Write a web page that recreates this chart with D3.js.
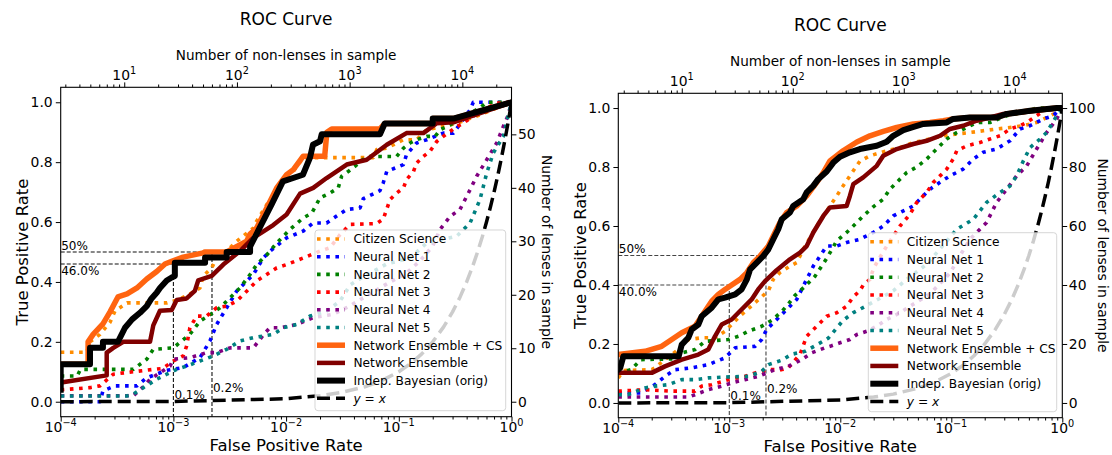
<!DOCTYPE html>
<html><head><meta charset="utf-8">
<script src="https://cdn.jsdelivr.net/npm/d3@7"></script>
<style>
body{margin:0;background:#fff}
text{font-family:"DejaVu Sans",sans-serif;fill:#000}
</style>
</head><body>
<svg id="c" width="1112" height="455"></svg>
<script>
// ---------------- DATA (FPR, TPR) ----------------
// Left panel (56 lenses, ~27300 non-lenses)
const csL=[[1e-4,0.165],[1.7e-4,0.165],[1.82e-4,0.2],[2.23e-4,0.225],[2.74e-4,0.265],[3.03e-4,0.303],[3.88e-4,0.33],[8.73e-4,0.33],[1.1e-3,0.34],[1.4e-3,0.36],[1.72e-3,0.38],[1.84e-3,0.42],[2.19e-3,0.447],[2.42e-3,0.48],[2.97e-3,0.503],[3.65e-3,0.536],[5.12e-3,0.58],[5.48e-3,0.603],[6.73e-3,0.658],[8.26e-3,0.703],[9.44e-3,0.747],[1.16e-2,0.77],[1.42e-2,0.814],[2.07e-2,0.815],[5.94e-2,0.815],[6.37e-2,0.842],[7.82e-2,0.847],[0.11,0.875],[0.144,0.875],[0.177,0.908],[0.248,0.919],[0.327,0.93],[0.525,0.958],[0.791,0.986],[1,1]];
const nn1L=[[1e-4,0.0],[2.23e-4,0.0],[2.37e-4,0.036],[3.03e-4,0.053],[4.75e-4,0.053],[5.8e-4,0.08],[8.73e-4,0.105],[1.22e-3,0.114],[1.72e-3,0.147],[2.11e-3,0.203],[2.42e-3,0.258],[3.65e-3,0.37],[5.12e-3,0.425],[6.28e-3,0.48],[7.2e-3,0.503],[1.01e-2,0.547],[1.42e-2,0.57],[1.74e-2,0.597],[2.29e-2,0.597],[2.81e-2,0.62],[3.45e-2,0.642],[4.53e-2,0.647],[4.84e-2,0.678],[6.81e-2,0.705],[7.28e-2,0.731],[7.82e-2,0.769],[0.11,0.792],[0.117,0.825],[0.144,0.864],[0.177,0.875],[0.248,0.897],[0.305,0.897],[0.373,0.942],[0.429,0.975],[0.458,1.0],[1,1]];
const nn2L=[[1e-4,0.086],[1.4e-4,0.086],[1.5e-4,0.108],[4.41e-4,0.108],[5.8e-4,0.142],[6.63e-4,0.175],[1.0e-3,0.18],[1.4e-3,0.225],[1.72e-3,0.269],[2.11e-3,0.29],[2.59e-3,0.314],[3.18e-3,0.347],[3.9e-3,0.38],[4.79e-3,0.425],[5.48e-3,0.458],[6.73e-3,0.49],[8.26e-3,0.53],[1.08e-2,0.575],[1.42e-2,0.614],[1.69e-2,0.63],[2.0e-2,0.681],[2.45e-2,0.697],[2.9e-2,0.714],[3.11e-2,0.753],[3.56e-2,0.769],[4.08e-2,0.786],[5.19e-2,0.819],[9.57e-2,0.819],[0.11,0.847],[0.126,0.864],[0.144,0.875],[0.177,0.886],[0.21,0.886],[0.232,0.908],[0.305,0.93],[0.4,0.958],[0.525,0.981],[0.603,1.0],[1,1]];
const nn3L=[[1e-4,0.04],[1.82e-4,0.047],[2.23e-4,0.053],[2.93e-4,0.092],[6.63e-4,0.108],[8.0e-4,0.111],[1.0e-3,0.136],[1.22e-3,0.153],[1.31e-3,0.186],[1.4e-3,0.247],[1.61e-3,0.286],[1.97e-3,0.286],[2.42e-3,0.314],[2.97e-3,0.319],[3.65e-3,0.336],[4.47e-3,0.369],[5.48e-3,0.403],[6.73e-3,0.425],[8.26e-3,0.447],[1.01e-2,0.458],[1.42e-2,0.48],[2.0e-2,0.503],[2.45e-2,0.514],[3.01e-2,0.558],[3.69e-2,0.592],[6.37e-2,0.595],[7.28e-2,0.61],[8.36e-2,0.675],[9.57e-2,0.697],[0.11,0.714],[0.117,0.742],[0.135,0.769],[0.144,0.797],[0.165,0.819],[0.189,0.836],[0.217,0.869],[0.248,0.886],[0.327,0.919],[0.373,0.93],[0.429,0.947],[0.562,0.975],[0.739,0.997],[1,1]];
const nn4L=[[1e-4,0.02],[4.41e-4,0.02],[5.41e-4,0.05],[6.2e-4,0.075],[9.33e-4,0.119],[1.0e-3,0.142],[1.4e-3,0.147],[1.97e-3,0.164],[2.42e-3,0.164],[3.18e-3,0.18],[5.12e-3,0.18],[6.5e-3,0.23],[7.2e-3,0.247],[8.83e-3,0.247],[1.24e-2,0.258],[1.74e-2,0.281],[2.62e-2,0.292],[3.69e-2,0.32],[5.5e-2,0.36],[8.4e-2,0.4],[0.117,0.43],[0.154,0.47],[0.2,0.52],[0.232,0.575],[0.285,0.619],[0.349,0.642],[0.429,0.708],[0.491,0.753],[0.603,0.808],[0.739,0.864],[0.846,0.919],[0.937,0.958],[1,1]];
const nn5L=[[1e-4,0.019],[3.85e-4,0.019],[4.41e-4,0.025],[5.41e-4,0.047],[7.11e-4,0.075],[8.73e-4,0.092],[1.07e-3,0.108],[1.31e-3,0.119],[1.72e-3,0.136],[2.26e-3,0.153],[2.97e-3,0.175],[3.9e-3,0.203],[5.12e-3,0.214],[7.69e-3,0.225],[9.44e-3,0.247],[1.24e-2,0.258],[1.63e-2,0.286],[2.29e-2,0.303],[3.01e-2,0.336],[3.7e-2,0.39],[4.5e-2,0.41],[7.8e-2,0.46],[0.126,0.48],[0.177,0.53],[0.327,0.553],[0.429,0.597],[0.525,0.675],[0.603,0.764],[0.69,0.831],[0.846,0.886],[0.937,0.958],[1,1]];
const necsL=[[1e-4,0.125],[1.75e-4,0.125],[1.75e-4,0.2],[1.94e-4,0.225],[2.37e-4,0.26],[2.74e-4,0.3],[3.22e-4,0.35],[3.88e-4,0.36],[4.75e-4,0.38],[5.8e-4,0.41],[7.11e-4,0.435],[8.42e-4,0.46],[9.66e-4,0.469],[1.22e-3,0.483],[1.84e-3,0.497],[1.9e-3,0.5],[2.97e-3,0.5],[4.47e-3,0.536],[4.79e-3,0.56],[5.48e-3,0.58],[6.73e-3,0.647],[8.26e-3,0.714],[1.01e-2,0.758],[1.16e-2,0.775],[1.42e-2,0.82],[2.2e-2,0.82],[2.3e-2,0.9],[2.54e-2,0.911],[6.81e-2,0.911],[7.5e-2,0.929],[0.2,0.929],[0.2,0.946],[0.31,0.946],[1,1]];
const neL=[[1e-4,0.064],[2.56e-4,0.088],[2.56e-4,0.164],[2.93e-4,0.18],[3.59e-4,0.2],[6.2e-4,0.2],[6.63e-4,0.255],[7.6e-4,0.304],[9.66e-4,0.306],[1.07e-3,0.34],[1.31e-3,0.345],[1.55e-3,0.37],[1.66e-3,0.405],[2.19e-3,0.42],[2.77e-3,0.458],[3.9e-3,0.503],[5.12e-3,0.547],[7.69e-3,0.59],[1.01e-2,0.625],[1.33e-2,0.695],[1.74e-2,0.714],[2.29e-2,0.747],[3.45e-2,0.792],[5.19e-2,0.808],[7.82e-2,0.858],[0.117,0.897],[0.165,0.897],[0.217,0.93],[0.305,0.933],[1,1]];
const bayesL=[[1e-4,0.04],[1e-4,0.125],[1.82e-4,0.125],[1.82e-4,0.18],[2.37e-4,0.18],[2.37e-4,0.2],[3.22e-4,0.2],[3.72e-4,0.247],[4.3e-4,0.275],[5.05e-4,0.297],[5.8e-4,0.319],[6.4e-4,0.345],[7.1e-4,0.364],[7.6e-4,0.38],[8.73e-4,0.405],[9.66e-4,0.415],[1.03e-3,0.42],[1.03e-3,0.464],[1.91e-3,0.464],[1.91e-3,0.482],[2.97e-3,0.482],[2.97e-3,0.5],[4.79e-3,0.5],[4.79e-3,0.518],[7.46e-3,0.66],[9.37e-3,0.736],[1.41e-2,0.758],[1.63e-2,0.815],[1.73e-2,0.858],[2.0e-2,0.87],[2.07e-2,0.893],[6.81e-2,0.893],[7.5e-2,0.929],[0.2,0.929],[0.2,0.946],[0.31,0.946],[1,1]];

// Right panel (100 lenses, ~26800 non-lenses)
const csR=[[1e-4,0.085],[1.11e-4,0.11],[2.0e-4,0.113],[2.14e-4,0.119],[2.63e-4,0.147],[3.47e-4,0.181],[4.27e-4,0.215],[5.64e-4,0.221],[7.43e-4,0.221],[9.15e-4,0.243],[1.05e-3,0.266],[1.25e-3,0.295],[1.54e-3,0.325],[1.89e-3,0.355],[2.25e-3,0.38],[2.49e-3,0.419],[2.86e-3,0.442],[3.52e-3,0.464],[4.05e-3,0.476],[4.64e-3,0.521],[6.13e-3,0.6],[7.03e-3,0.634],[8.07e-3,0.668],[9.29e-3,0.702],[1.06e-2,0.736],[1.22e-2,0.77],[1.5e-2,0.82],[1.85e-2,0.838],[2.62e-2,0.855],[3.45e-2,0.866],[4.55e-2,0.883],[6.43e-2,0.895],[8.47e-2,0.906],[0.112,0.912],[0.147,0.917],[0.194,0.923],[0.256,0.929],[0.338,0.934],[0.446,0.94],[0.587,0.951],[0.723,0.968],[0.891,0.985],[1,1]];
const nn1R=[[1e-4,0.034],[1.6e-4,0.034],[2.14e-4,0.062],[2.63e-4,0.09],[3.24e-4,0.113],[4.58e-4,0.119],[6.47e-4,0.13],[9.15e-4,0.153],[1.13e-3,0.187],[1.71e-3,0.192],[1.96e-3,0.215],[2.17e-3,0.249],[2.86e-3,0.294],[3.52e-3,0.328],[4.05e-3,0.351],[4.64e-3,0.396],[5.71e-3,0.464],[7.54e-3,0.532],[9.29e-3,0.532],[1.14e-2,0.544],[1.5e-2,0.555],[1.98e-2,0.578],[2.44e-2,0.6],[3.0e-2,0.634],[4.55e-2,0.668],[5.22e-2,0.691],[6.43e-2,0.725],[7.91e-2,0.748],[9.73e-2,0.77],[0.128,0.793],[0.158,0.827],[0.194,0.85],[0.256,0.861],[0.338,0.889],[0.416,0.929],[0.512,0.94],[0.675,0.963],[0.83,0.974],[0.953,0.997],[1,1]];
const nn2R=[[1e-4,0.1],[1.3e-4,0.113],[1.6e-4,0.147],[3.5e-4,0.15],[3.73e-4,0.17],[4.91e-4,0.181],[6.04e-4,0.209],[9.79e-4,0.215],[1.21e-3,0.226],[1.48e-3,0.243],[1.96e-3,0.26],[2.41e-3,0.28],[2.97e-3,0.31],[3.4e-3,0.335],[3.91e-3,0.365],[4.81e-3,0.395],[5.92e-3,0.43],[7.54e-3,0.49],[9.29e-3,0.55],[1.14e-2,0.578],[1.31e-2,0.6],[1.61e-2,0.634],[1.98e-2,0.665],[2.44e-2,0.691],[2.8e-2,0.725],[3.45e-2,0.759],[3.96e-2,0.781],[4.88e-2,0.8],[6.0e-2,0.827],[7.38e-2,0.861],[9.1e-2,0.895],[0.112,0.917],[0.138,0.934],[0.169,0.951],[0.223,0.951],[0.316,0.974],[0.446,0.985],[0.587,1.0],[1,1]];
const nn3R=[[1e-4,0.04],[1.74e-4,0.045],[3.03e-4,0.04],[4.91e-4,0.04],[5.64e-4,0.057],[6.94e-4,0.062],[9.79e-4,0.079],[1.38e-3,0.09],[1.71e-3,0.102],[2.25e-3,0.113],[2.97e-3,0.113],[3.4e-3,0.119],[4.34e-3,0.165],[4.98e-3,0.226],[6.13e-3,0.26],[7.54e-3,0.294],[9.29e-3,0.306],[1.14e-2,0.328],[1.31e-2,0.36],[1.5e-2,0.38],[1.61e-2,0.4],[1.85e-2,0.419],[1.98e-2,0.453],[2.13e-2,0.476],[2.62e-2,0.532],[3.45e-2,0.6],[4.25e-2,0.64],[4.88e-2,0.68],[6.0e-2,0.714],[6.89e-2,0.748],[7.91e-2,0.77],[9.1e-2,0.793],[0.104,0.827],[0.112,0.855],[0.138,0.872],[0.181,0.883],[0.223,0.895],[0.275,0.906],[0.338,0.929],[0.416,0.94],[0.478,0.951],[0.587,0.974],[0.723,0.997],[1,1]];
const nn4R=[[1e-4,0.02],[4.3e-4,0.02],[4.91e-4,0.028],[6.47e-4,0.045],[8.54e-4,0.057],[1.05e-3,0.068],[1.38e-3,0.079],[1.82e-3,0.09],[2.58e-3,0.113],[3.4e-3,0.124],[4.49e-3,0.147],[5.52e-3,0.17],[7.28e-3,0.187],[8.07e-3,0.192],[9.94e-3,0.204],[1.22e-2,0.215],[1.41e-2,0.232],[1.73e-2,0.243],[2.13e-2,0.26],[2.62e-2,0.283],[3.45e-2,0.306],[4.25e-2,0.328],[6.43e-2,0.37],[9.73e-2,0.44],[0.12,0.5],[0.147,0.555],[0.208,0.612],[0.256,0.68],[0.316,0.725],[0.388,0.77],[0.478,0.804],[0.587,0.861],[0.723,0.917],[0.891,0.963],[1,1]];
const nn5R=[[1e-4,0.028],[1.22e-4,0.028],[1.74e-4,0.051],[2.14e-4,0.057],[2.82e-4,0.062],[3.73e-4,0.079],[4.91e-4,0.079],[6.47e-4,0.085],[9.15e-4,0.088],[1.48e-3,0.09],[1.96e-3,0.107],[2.25e-3,0.13],[2.97e-3,0.145],[3.65e-3,0.165],[4.81e-3,0.175],[6.34e-3,0.2],[7.8e-3,0.22],[1.06e-2,0.28],[1.31e-2,0.306],[1.73e-2,0.33],[2.28e-2,0.355],[3.0e-2,0.38],[3.96e-2,0.419],[6.0e-2,0.47],[9.1e-2,0.549],[0.112,0.589],[0.158,0.623],[0.208,0.68],[0.275,0.714],[0.338,0.736],[0.388,0.77],[0.446,0.821],[0.512,0.866],[0.629,0.895],[0.723,0.917],[0.891,0.974],[1,1]];
const necsR=[[1e-4,0.164],[1.74e-4,0.175],[2.46e-4,0.192],[3.03e-4,0.215],[3.73e-4,0.238],[4.91e-4,0.26],[5.64e-4,0.294],[6.94e-4,0.345],[7.96e-4,0.368],[9.15e-4,0.385],[1.05e-3,0.4],[1.25e-3,0.419],[1.44e-3,0.442],[1.65e-3,0.476],[1.89e-3,0.498],[2.25e-3,0.532],[2.58e-3,0.578],[2.86e-3,0.612],[3.29e-3,0.646],[4.05e-3,0.668],[4.98e-3,0.702],[6.13e-3,0.748],[7.03e-3,0.781],[8.07e-3,0.821],[1.06e-2,0.855],[1.41e-2,0.885],[1.85e-2,0.906],[2.44e-2,0.921],[3.22e-2,0.934],[4.55e-2,0.946],[6.43e-2,0.951],[8.47e-2,0.957],[0.104,0.963],[0.147,0.968],[0.256,0.968],[0.316,0.98],[0.512,0.991],[0.891,1.0],[1,1]];
const neR=[[1e-4,0.102],[2.0e-4,0.102],[2.63e-4,0.124],[3.73e-4,0.147],[5.26e-4,0.164],[6.47e-4,0.181],[7.43e-4,0.226],[8.54e-4,0.266],[1.05e-3,0.283],[1.29e-3,0.317],[1.59e-3,0.351],[1.82e-3,0.385],[2.1e-3,0.413],[2.67e-3,0.45],[3.52e-3,0.487],[4.34e-3,0.51],[4.98e-3,0.532],[5.71e-3,0.578],[7.03e-3,0.634],[8.07e-3,0.663],[1.14e-2,0.668],[1.22e-2,0.702],[1.31e-2,0.742],[1.61e-2,0.765],[2.13e-2,0.804],[2.44e-2,0.838],[3.22e-2,0.861],[4.55e-2,0.878],[6.0e-2,0.889],[7.91e-2,0.906],[9.73e-2,0.929],[0.128,0.94],[0.169,0.957],[0.223,0.968],[0.294,0.98],[0.416,0.985],[0.587,0.991],[1,1]];
const bayesR=[[1e-4,0.113],[1.04e-4,0.119],[1.11e-4,0.158],[3.5e-4,0.158],[3.73e-4,0.198],[4.27e-4,0.221],[4.58e-4,0.249],[5.26e-4,0.266],[5.64e-4,0.294],[6.94e-4,0.323],[7.96e-4,0.351],[9.15e-4,0.357],[1.13e-3,0.368],[1.29e-3,0.385],[1.44e-3,0.419],[1.54e-3,0.453],[1.77e-3,0.476],[2.02e-3,0.498],[2.25e-3,0.521],[2.49e-3,0.555],[2.76e-3,0.589],[2.97e-3,0.623],[3.52e-3,0.646],[3.77e-3,0.668],[4.64e-3,0.691],[4.98e-3,0.714],[5.71e-3,0.736],[6.34e-3,0.759],[7.54e-3,0.785],[8.65e-3,0.815],[9.94e-3,0.835],[1.22e-2,0.85],[1.5e-2,0.861],[2.13e-2,0.872],[2.62e-2,0.886],[3.0e-2,0.906],[3.7e-2,0.925],[4.5e-2,0.935],[5.6e-2,0.946],[9.1e-2,0.951],[0.104,0.963],[0.147,0.968],[0.256,0.968],[0.316,0.98],[0.512,0.991],[0.891,1.0],[1,1]];

// y = x reference line
const diagonal=[[1e-4,1e-4],[1e-3,1e-3],[0.01,0.01],[0.02,0.02],[0.03,0.03],[0.05,0.05],[0.07,0.07],[0.1,0.1],[0.13,0.13],[0.16,0.16],[0.2,0.2],[0.25,0.25],[0.3,0.3],[0.35,0.35],[0.4,0.4],[0.45,0.45],[0.5,0.5],[0.55,0.55],[0.6,0.6],[0.65,0.65],[0.7,0.7],[0.75,0.75],[0.8,0.8],[0.85,0.85],[0.9,0.9],[0.95,0.95],[1,1]];

const legendLabels=["Citizen Science","Neural Net 1","Neural Net 2","Neural Net 3","Neural Net 4","Neural Net 5","Network Ensemble + CS","Network Ensemble","Indep. Bayesian (orig)","y = x"];
const fprTicks=[1e-4,1e-3,1e-2,1e-1,1];
const fprTickExp=["−4","−3","−2","−1","0"];
const tprTicks=[0,0.2,0.4,0.6,0.8,1.0];
const nonLensTicks=[10,100,1000,10000];
const nonLensTickExp=["1","2","3","4"];
const lensTicksL=[0,10,20,30,40,50];
const lensTicksR=[0,20,40,60,80,100];
const annotL={tpr:[0.5,0.46],tprLab:["50%","46.0%"],fpr:[0.001,0.0022],fprLab:["0.1%","0.2%"]};
const annotR={tpr:[0.5,0.4],tprLab:["50%","40.0%"],fpr:[0.001,0.00214],fprLab:["0.1%","0.2%"]};

// ---------------- STYLES ----------------
const styles=[
 {key:"cs",color:"#ff8c00",w:3.6,dash:"3.6,5.6",cap:"butt"},
 {key:"nn1",color:"#0000ff",w:3.6,dash:"3.6,5.6",cap:"butt"},
 {key:"nn2",color:"#008000",w:3.6,dash:"3.6,5.6",cap:"butt"},
 {key:"nn3",color:"#ff0000",w:3.6,dash:"3.6,5.6",cap:"butt"},
 {key:"nn4",color:"#800080",w:3.6,dash:"3.6,5.6",cap:"butt"},
 {key:"nn5",color:"#008080",w:3.6,dash:"3.6,5.6",cap:"butt"},
 {key:"necs",color:"#ff6410",w:5.5,dash:null,cap:"square"},
 {key:"ne",color:"#800000",w:4.5,dash:null,cap:"square"},
 {key:"bayes",color:"#000000",w:6,dash:null,cap:"square"},
 {key:"yx",color:"#000000",w:3.5,dash:"13,6",cap:"butt"}
];

const svg=d3.select("#c");

function panel(o){
  const g=svg.append("g");
  const x=d3.scaleLog().domain([1e-4,1]).range([o.x0,o.x1]);
  const y=d3.scaleLinear().domain([-0.05,1.05]).range([o.y1,o.y0]);
  const xt=d3.scaleLog().domain([o.nNeg*1e-4,o.nNeg]).range([o.x0,o.x1]);
  const yr=d3.scaleLinear().domain([-0.05*o.nPos,1.05*o.nPos]).range([o.y1,o.y0]);
  const midX=(o.x0+o.x1)/2, midY=(o.y0+o.y1)/2;

  const cid="clip"+o.id;
  svg.append("clipPath").attr("id",cid).append("rect")
    .attr("x",o.x0).attr("y",o.y0).attr("width",o.x1-o.x0).attr("height",o.y1-o.y0);
  const plot=g.append("g").attr("clip-path",`url(#${cid})`);

  // annotation guide lines
  const an=o.annot;
  const ac=o.annotColor;
  const hl=[[an.tpr[0],an.fpr[1]],[an.tpr[1],an.fpr[0]]];
  hl.forEach(d=>{
    plot.append("line").attr("x1",x(1e-4)).attr("x2",x(d[1])).attr("y1",y(d[0])).attr("y2",y(d[0]))
      .attr("stroke",ac).attr("stroke-width",1.1).attr("stroke-dasharray","4,2");
    plot.append("line").attr("x1",x(d[1])).attr("x2",x(d[1])).attr("y1",y(d[0])).attr("y2",y(-0.05))
      .attr("stroke",ac).attr("stroke-width",1.1).attr("stroke-dasharray","4,2");
  });

  // series
  const line=d3.line().x(d=>x(d[0])).y(d=>y(d[1]));
  styles.forEach(s=>{
    plot.append("path").datum(o.data[s.key]).attr("d",line)
      .attr("fill","none").attr("stroke",s.color).attr("stroke-width",s.w)
      .attr("stroke-dasharray",s.dash).attr("stroke-linecap",s.cap)
      .attr("stroke-linejoin","round");
  });

  // annotation texts
  const tf=12;
  g.append("text").attr("x",x(1e-4)+0.5).attr("y",y(an.tpr[0])-2.5).attr("font-size",tf).attr("fill","#222").text(an.tprLab[0]);
  g.append("text").attr("x",x(1e-4)+0.5).attr("y",y(an.tpr[1])+11).attr("font-size",tf).attr("fill","#222").text(an.tprLab[1]);
  g.append("text").attr("x",x(an.fpr[0])+1).attr("y",o.y1-18).attr("font-size",tf).attr("fill","#222").text(an.fprLab[0]);
  g.append("text").attr("x",x(an.fpr[1])+1).attr("y",o.y1-25).attr("font-size",tf).attr("fill","#222").text(an.fprLab[1]);

  // legend
  const lg=g.append("g");
  lg.append("rect").attr("x",o.lx).attr("y",o.ly).attr("width",o.lw).attr("height",o.lh).attr("rx",3)
    .attr("fill","#fff").attr("fill-opacity",0.8).attr("stroke","#cccccc").attr("stroke-opacity",0.8);
  styles.forEach((s,i)=>{
    const cy=o.ly+9+i*o.lstep;
    lg.append("line").attr("x1",o.lx+2).attr("x2",o.lx+30).attr("y1",cy).attr("y2",cy)
      .attr("stroke",s.color).attr("stroke-width",s.w).attr("stroke-dasharray",s.dash)
      .attr("stroke-linecap","butt");
    const t=lg.append("text").attr("x",o.lx+38.5).attr("y",cy).attr("dy","0.36em").attr("font-size",12.2);
    if(s.key==="yx"){
      t.append("tspan").attr("font-style","italic").text("y");
      t.append("tspan").text(" = ");
      t.append("tspan").attr("font-style","italic").text("x");
    } else t.text(legendLabels[i]);
  });

  // frame
  g.append("rect").attr("x",o.x0).attr("y",o.y0).attr("width",o.x1-o.x0).attr("height",o.y1-o.y0)
    .attr("fill","none").attr("stroke","#000").attr("stroke-width",1.1);

  // axes (tick marks)
  const minorF=[],minorN=[];
  for(let e=-4;e<0;e++) for(let k=2;k<10;k++) minorF.push(k*Math.pow(10,e));
  for(let e=0;e<5;e++) for(let k=2;k<10;k++){const v=k*Math.pow(10,e); if(v>=o.nNeg*1e-4&&v<=o.nNeg) minorN.push(v);}
  const clean=sel=>{sel.select(".domain").remove(); sel.selectAll("text").remove(); sel.selectAll("line").attr("stroke","#000").attr("stroke-width",1);};
  g.append("g").attr("transform",`translate(0,${o.y1})`).call(d3.axisBottom(x).tickValues(fprTicks).tickSize(4.9).tickFormat("")).call(clean);
  g.append("g").attr("transform",`translate(0,${o.y1})`).call(d3.axisBottom(x).tickValues(minorF).tickSize(2.8).tickFormat("")).call(clean);
  g.append("g").attr("transform",`translate(0,${o.y0})`).call(d3.axisTop(xt).tickValues(nonLensTicks).tickSize(4.9).tickFormat("")).call(clean);
  g.append("g").attr("transform",`translate(0,${o.y0})`).call(d3.axisTop(xt).tickValues(minorN).tickSize(2.8).tickFormat("")).call(clean);
  g.append("g").attr("transform",`translate(${o.x0},0)`).call(d3.axisLeft(y).tickValues(tprTicks).tickSize(4.9).tickFormat("")).call(clean);
  g.append("g").attr("transform",`translate(${o.x1},0)`).call(d3.axisRight(yr).tickValues(o.lensTicks).tickSize(4.9).tickFormat("")).call(clean);

  const fs=13.9;
  fprTicks.forEach((v,i)=>{
    const t=g.append("text").attr("x",x(v)).attr("y",o.y1+15).attr("text-anchor","middle").attr("font-size",fs);
    t.append("tspan").text("10");
    t.append("tspan").attr("font-size",fs*0.7).attr("dy",-5.8).text(fprTickExp[i]);
  });
  nonLensTicks.forEach((v,i)=>{
    const t=g.append("text").attr("x",xt(v)).attr("y",o.y0-7.5).attr("text-anchor","middle").attr("font-size",fs);
    t.append("tspan").text("10");
    t.append("tspan").attr("font-size",fs*0.7).attr("dy",-5.8).text(nonLensTickExp[i]);
  });
  tprTicks.forEach(v=>{
    g.append("text").attr("x",o.x0-8).attr("y",y(v)).attr("dy","0.36em").attr("text-anchor","end").attr("font-size",fs).text(d3.format(".1f")(v));
  });
  o.lensTicks.forEach(v=>{
    g.append("text").attr("x",o.x1+6.5).attr("y",yr(v)).attr("dy","0.36em").attr("text-anchor","start").attr("font-size",fs).text(v);
  });

  // labels
  g.append("text").attr("x",midX).attr("y",o.y0-62).attr("text-anchor","middle").attr("font-size",17).text("ROC Curve");
  g.append("text").attr("x",midX).attr("y",o.y0-27.5).attr("text-anchor","middle").attr("font-size",13.6).text("Number of non-lenses in sample");
  g.append("text").attr("x",midX).attr("y",o.y1+34.5).attr("text-anchor","middle").attr("font-size",16.5).text("False Positive Rate");
  g.append("text").attr("transform",`translate(${o.yLabX},${midY}) rotate(-90)`).attr("dy","0.36em").attr("text-anchor","middle").attr("font-size",16.5).text("True Positive Rate");
  g.append("text").attr("transform",`translate(${o.rLabX},${midY}) rotate(90)`).attr("dy","0.36em").attr("text-anchor","middle").attr("font-size",13.9).text("Number of lenses in sample");
}

panel({id:"L",x0:60.7,x1:511.5,y0:87.3,y1:416.7,nNeg:27300,nPos:56,lensTicks:lensTicksL,
  data:{cs:csL,nn1:nn1L,nn2:nn2L,nn3:nn3L,nn4:nn4L,nn5:nn5L,necs:necsL,ne:neL,bayes:bayesL,yx:diagonal},
  annot:annotL,annotColor:"#111",lx:315,ly:230,lw:190.7,lh:180.7,lstep:17.7,yLabX:21.7,rLabX:546.7});
panel({id:"R",x0:618.3,x1:1062.3,y0:93.3,y1:417.7,nNeg:26800,nPos:100,lensTicks:lensTicksR,
  data:{cs:csR,nn1:nn1R,nn2:nn2R,nn3:nn3R,nn4:nn4R,nn5:nn5R,necs:necsR,ne:neR,bayes:bayesR,yx:diagonal},
  annot:annotR,annotColor:"#444",lx:868.3,ly:232.7,lw:188.4,lh:179,lstep:17.75,yLabX:580,rLabX:1103.3});
</script>
</body></html>
